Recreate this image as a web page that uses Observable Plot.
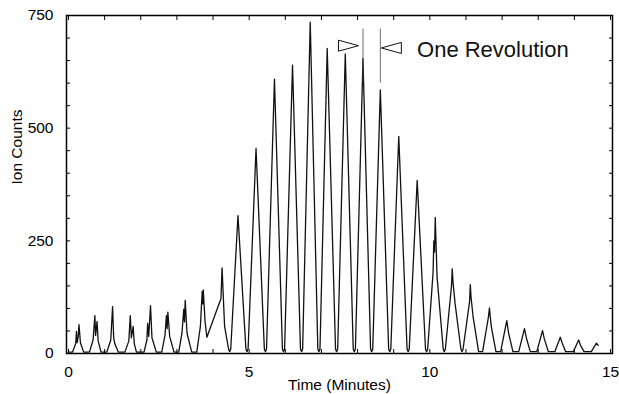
<!DOCTYPE html>
<html>
<head>
<meta charset="utf-8">
<script src="https://cdn.jsdelivr.net/npm/d3@7"></script>
<script src="https://cdn.jsdelivr.net/npm/@observablehq/plot@0.6"></script>
<style>
  html, body { margin: 0; padding: 0; background: #fff; }
  #chart { width: 619px; height: 394px; }
</style>
</head>
<body>
<div id="chart"></div>
<script>
// Trace vertices (time in minutes, ion counts)
const traceTime = [
  0.00,
  0.11, 0.20, 0.22, 0.24, 0.27, 0.29, 0.33, 0.42,
  0.58, 0.68, 0.73, 0.75, 0.79, 0.82, 0.90,
  1.06, 1.17, 1.22, 1.25, 1.28, 1.38,
  1.56, 1.67, 1.71, 1.74, 1.79, 1.82, 1.88,
  2.09, 2.17, 2.19, 2.22, 2.27, 2.31, 2.43,
  2.58, 2.67, 2.71, 2.73, 2.75, 2.80, 2.92,
  3.05, 3.14, 3.19, 3.21, 3.23, 3.28, 3.41,
  3.55, 3.65, 3.70, 3.72, 3.73, 3.78, 3.83,
  4.22, 4.25, 4.32, 4.43, 4.46,
  4.49, 4.69, 4.91, 4.94, 4.97,
  5.19, 5.42, 5.45, 5.48,
  5.70, 5.92, 5.95, 5.98,
  6.20, 6.42, 6.45, 6.48,
  6.69, 6.90, 6.93, 6.96,
  7.16, 7.39, 7.42, 7.45,
  7.66, 7.88, 7.91, 7.94,
  8.15, 8.36, 8.39, 8.42,
  8.63, 8.86, 8.89, 8.92,
  9.14, 9.37, 9.40, 9.43,
  9.65, 9.88, 9.91, 9.94,
  10.09, 10.11, 10.13, 10.15, 10.20, 10.37, 10.40, 10.43,
  10.60, 10.62, 10.64, 10.70, 10.86, 10.89, 10.92,
  11.10, 11.12, 11.14, 11.20, 11.35,
  11.46, 11.62, 11.65, 11.70, 11.83,
  11.96, 12.13, 12.18, 12.30,
  12.46, 12.62, 12.67, 12.78,
  12.96, 13.12, 13.17, 13.28,
  13.46, 13.61, 13.66, 13.76,
  13.97, 14.12, 14.17, 14.27,
  14.47, 14.61, 14.66
];
const traceCounts = [
  3,
  3, 22, 49, 24, 38, 64, 24, 3,
  3, 30, 84, 40, 71, 28, 3,
  3, 30, 104, 35, 22, 3,
  3, 28, 84, 35, 60, 22, 3,
  3, 30, 67, 38, 106, 35, 3,
  3, 40, 84, 55, 92, 38, 3,
  3, 45, 98, 70, 118, 45, 3,
  3, 60, 138, 110, 141, 70, 36,
  122, 190, 60, 10, 4,
  10, 306, 10, 4, 10,
  455, 10, 4, 10,
  609, 10, 4, 10,
  640, 10, 4, 10,
  735, 10, 4, 10,
  677, 10, 4, 10,
  665, 10, 4, 10,
  654, 10, 4, 10,
  585, 10, 4, 10,
  482, 10, 4, 10,
  384, 10, 4, 10,
  180, 250, 225, 302, 170, 10, 4, 10,
  150, 188, 160, 110, 10, 4, 10,
  115, 153, 125, 80, 4,
  4, 80, 101, 60, 4,
  4, 73, 45, 4,
  4, 55, 35, 4,
  4, 51, 32, 4,
  4, 36, 24, 4,
  4, 30, 18, 4,
  4, 23, 18
];

// Annotation: the two peaks spanning one revolution
const revolutionPeaks = [8.15, 8.63];
const revolutionSpan = [600, 720];
const arrowCounts = [683, 678];
const annotationCount = 674;
const annotationLabel = "One Revolution";

// Axis ticks and labels
const xLabelTicks = [0, 5, 10, 15];
const xMinorTicks = d3.range(0, 16, 1);
const yLabelTicks = [0, 250, 500, 750];
const yMinorTicks = d3.range(0, 751, 50);
const xTitle = "Time (Minutes)";
const yTitle = "Ion Counts";

const trace = traceTime.map((t, i) => ({t, c: traceCounts[i]}));

const triRight = {draw(ctx) { ctx.moveTo(-10, -5.5); ctx.lineTo(10, 0); ctx.lineTo(-10, 5.5); ctx.closePath(); }};
const triLeft = {draw(ctx) { ctx.moveTo(10, -5.5); ctx.lineTo(-10, 0); ctx.lineTo(10, 5.5); ctx.closePath(); }};

const font = "'Liberation Sans', Arial, Helvetica, sans-serif";

const chart = Plot.plot({
  width: 619,
  height: 394,
  marginLeft: 66,
  marginRight: 7,
  marginTop: 15,
  marginBottom: 41,
  style: {fontFamily: font, background: "#fff", color: "#000"},
  x: {domain: [0, 15], insetLeft: 2, insetRight: 2},
  y: {domain: [0, 750]},
  marks: [
    Plot.axisX(xMinorTicks, {anchor: "top", tickSize: -4, tickFormat: () => "", label: null}),
    Plot.axisX(xMinorTicks, {anchor: "bottom", tickSize: -4, tickFormat: () => "", label: null}),
    Plot.axisY(yMinorTicks, {anchor: "left", tickSize: -4, tickFormat: () => "", label: null}),
    Plot.axisY(yMinorTicks, {anchor: "right", tickSize: -4, tickFormat: () => "", label: null}),
    Plot.axisX(xLabelTicks, {anchor: "bottom", tickSize: 0, tickPadding: 12, fontSize: 15.5, label: null}),
    Plot.axisY(yLabelTicks, {anchor: "left", tickSize: 0, tickPadding: 13, fontSize: 15.5, label: null}),
    Plot.text([xTitle], {frameAnchor: "bottom", dy: 32, lineAnchor: "middle", fontSize: 15.5, text: d => d}),
    Plot.text([yTitle], {frameAnchor: "left", dx: -49, rotate: -90, lineAnchor: "middle", fontSize: 15.5, text: d => d}),
    Plot.line(trace, {x: "t", y: "c", stroke: "#111", strokeWidth: 1.3, strokeLinejoin: "round"}),
    Plot.ruleX(revolutionPeaks, {x: d => d, y1: revolutionSpan[0], y2: revolutionSpan[1], stroke: "#444", strokeWidth: 0.8}),
    Plot.dot([0], {x: () => revolutionPeaks[0], y: () => arrowCounts[0], dx: -14.5, symbol: triRight, fill: "white", stroke: "#111", strokeWidth: 1}),
    Plot.dot([0], {x: () => revolutionPeaks[1], y: () => arrowCounts[1], dx: 11, symbol: triLeft, fill: "white", stroke: "#111", strokeWidth: 1}),
    Plot.text([annotationLabel], {x: () => revolutionPeaks[1], y: () => annotationCount, dx: 36.7, text: d => d, textAnchor: "start", lineAnchor: "middle", fontSize: 22, fill: "#111"}),
    Plot.frame({stroke: "#000", strokeWidth: 1.5})
  ]
});
document.getElementById("chart").appendChild(chart);
</script>
</body>
</html>
